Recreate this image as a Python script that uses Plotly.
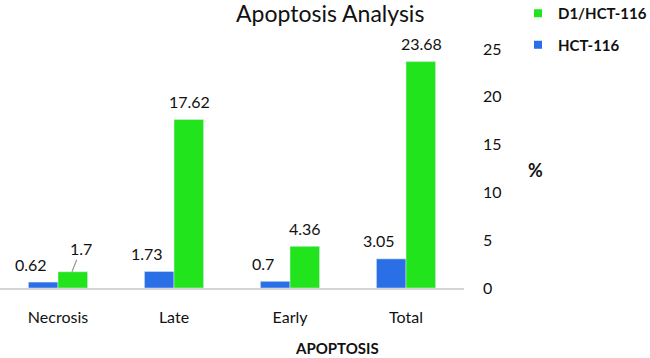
import plotly.graph_objects as go

categories = ["Necrosis", "Late", "Early", "Total"]
hct116 = [0.62, 1.73, 0.7, 3.05]
d1_hct116 = [1.7, 17.62, 4.36, 23.68]
y_ticks = [0, 5, 10, 15, 20, 25]

BLUE = "#2a6fe5"
GREEN = "#22e41c"
FONT = "Lato, 'Open Sans', sans-serif"

fig = go.Figure()
fig.add_trace(go.Bar(name="HCT-116", x=categories, y=hct116, marker_color=BLUE,
                     showlegend=False))
fig.add_trace(go.Bar(name="D1/HCT-116", x=categories, y=d1_hct116, marker_color=GREEN,
                     showlegend=False))
# legend entries with small square markers
fig.add_trace(go.Scatter(name="D1/HCT-116", x=[None], y=[None], mode="markers",
                         marker=dict(symbol="square", size=8, color=GREEN),
                         legendgroup="a", legendrank=1))
fig.add_trace(go.Scatter(name="HCT-116", x=[None], y=[None], mode="markers",
                         marker=dict(symbol="square", size=8, color=BLUE),
                         legendgroup="b", legendrank=2))

annotations = []
for c, v in zip(categories, hct116):
    annotations.append(dict(x=c, y=v, xref="x", yref="y", text=str(v), showarrow=False,
                            xshift=-27, yshift=18, xanchor="center", yanchor="middle",
                            font=dict(size=16, color="#111", family=FONT)))
for c, v in zip(categories, d1_hct116):
    if c == "Necrosis":
        annotations.append(dict(x=c, y=v, xref="x", yref="y", text=str(v), showarrow=True,
                                arrowhead=0, arrowwidth=1.2, arrowcolor="#9a9a9a",
                                ax=9, ay=-23, xshift=14, standoff=0,
                                font=dict(size=16, color="#111", family=FONT)))
    else:
        annotations.append(dict(x=c, y=v, xref="x", yref="y", text=str(v), showarrow=False,
                                xshift=15, yshift=18, xanchor="center", yanchor="middle",
                                font=dict(size=16, color="#111", family=FONT)))
annotations.append(dict(x=535 / 464, y=(288 - 170) / 239, xref="paper", yref="paper",
                        text="<b>%</b>", showarrow=False, xanchor="center", yanchor="middle",
                        font=dict(size=18, color="#111", family=FONT)))
annotations.append(dict(x=337 / 464, y=(288 - 348) / 239, xref="paper", yref="paper",
                        text="<b>APOPTOSIS</b>", showarrow=False,
                        xanchor="center", yanchor="middle",
                        font=dict(size=15, color="#111", family=FONT)))

fig.update_layout(
    width=650, height=358,
    margin=dict(l=0, r=186, t=49, b=70, autoexpand=False),
    paper_bgcolor="white", plot_bgcolor="white",
    barmode="group", bargap=0.49, bargroupgap=0,
    title=dict(text="Apoptosis Analysis", xref="container", x=0.508, xanchor="center",
               yref="container", y=1 - 14 / 358, yanchor="middle",
               font=dict(size=23, color="#111", family=FONT)),
    font=dict(family=FONT, color="#111"),
    legend=dict(x=518 / 464, y=(288 + 3) / 239, xanchor="left", yanchor="top",
                xref="paper", yref="paper", tracegroupgap=9, traceorder="grouped",
                itemwidth=30,
                font=dict(size=15, color="#111", family=FONT, weight="bold"),
                bgcolor="rgba(0,0,0,0)"),
    xaxis=dict(showline=True, linecolor="#d4d4d4", linewidth=2, showgrid=False,
               ticks="", tickfont=dict(size=16, color="#111", family=FONT),
               ticklabelstandoff=14, range=[-0.5, 3.5], automargin=False),
    yaxis=dict(side="right", range=[0, 25], tickvals=y_ticks, showgrid=False,
               showline=False, zeroline=False, ticks="",
               tickfont=dict(size=16, color="#111", family=FONT),
               ticklabelstandoff=18, automargin=False),
    annotations=annotations,
)

fig.write_html("out.html", config={"displayModeBar": False},
               post_script="document.body.style.margin='0';")
